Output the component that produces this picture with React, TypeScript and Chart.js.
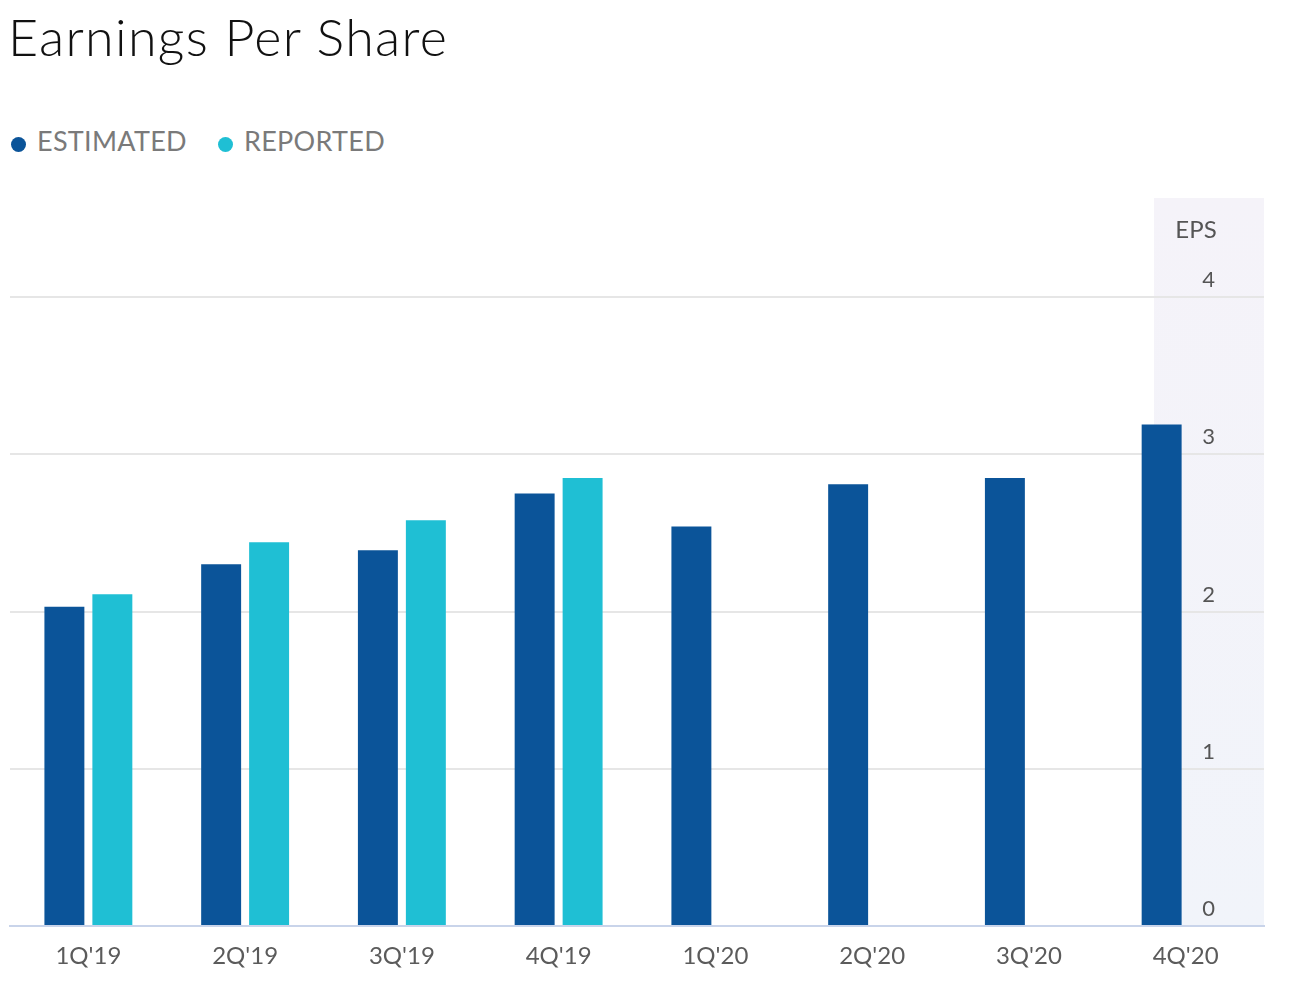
import React, { useEffect, useRef } from "react";
import { Chart, registerables } from "chart.js";

Chart.register(...registerables);

const TITLE = "Earnings Per Share";
const QUARTERS = ["1Q'19", "2Q'19", "3Q'19", "4Q'19", "1Q'20", "2Q'20", "3Q'20", "4Q'20"];
const ESTIMATED = [2.03, 2.3, 2.39, 2.75, 2.54, 2.81, 2.85, 3.19];
const REPORTED = [2.11, 2.44, 2.58, 2.85, null, null, null, null];
const SERIES_NAMES = ["ESTIMATED", "REPORTED"];
const SERIES_COLORS = ["#0b5499", "#1fbfd4"];
const Y_TICKS = [0, 1, 2, 3, 4];
const Y_AXIS_TITLE = "EPS";
const Y_MAX = 4.63;

const FONT = "Lato, 'Open Sans', sans-serif";

const panelPlugin = {
  id: "epsPanel",
  beforeDraw(chart: any) {
    const { ctx, chartArea: a } = chart;
    const left = a.right - 110;
    const g = ctx.createLinearGradient(0, a.top, 0, a.bottom);
    g.addColorStop(0, "#f5f3f9");
    g.addColorStop(1, "#f1f4fa");
    ctx.save();
    ctx.fillStyle = g;
    ctx.fillRect(left, a.top, a.right - left, a.bottom - a.top);
    ctx.fillStyle = "#555555";
    ctx.font = "24px " + FONT;
    ctx.textAlign = "center";
    ctx.textBaseline = "middle";
    ctx.fillText(Y_AXIS_TITLE, a.right - 68, a.top + 32);
    ctx.restore();
  },
};

export default function App() {
  const canvasRef = useRef<HTMLCanvasElement | null>(null);

  useEffect(() => {
    if (!canvasRef.current) return;
    const chart = new Chart(canvasRef.current, {
      type: "bar",
      data: {
        labels: QUARTERS,
        datasets: [
          {
            label: SERIES_NAMES[0],
            data: ESTIMATED,
            backgroundColor: SERIES_COLORS[0],
            categoryPercentage: 0.612,
            barPercentage: 0.833,
          },
          {
            label: SERIES_NAMES[1],
            data: REPORTED,
            backgroundColor: SERIES_COLORS[1],
            categoryPercentage: 0.612,
            barPercentage: 0.833,
          },
        ],
      },
      options: {
        animation: false,
        responsive: true,
        maintainAspectRatio: false,
        layout: { padding: { top: 8, left: 2, right: 30, bottom: 0 } },
        plugins: {
          legend: { display: false },
          title: { display: false },
          tooltip: { enabled: false },
        },
        scales: {
          x: {
            grid: { display: false, drawTicks: false },
            border: { display: true, color: "#c9d4ea", width: 2 },
            ticks: {
              color: "#5b5b5b",
              font: { family: FONT, size: 24 },
              padding: 16,
              maxRotation: 0,
              autoSkip: false,
            },
            afterFit: (s: any) => {
              s.height = 52;
            },
          },
          y: {
            position: "right",
            min: 0,
            max: Y_MAX,
            afterBuildTicks: (s: any) => {
              s.ticks = Y_TICKS.map((v) => ({ value: v }));
            },
            grid: {
              color: (c: any) => (c.tick && c.tick.value === 0 ? "#c9d4ea" : "#e6e6e6"),
              lineWidth: 2,
              drawTicks: false,
            },
            border: { display: false },
            ticks: {
              mirror: true,
              padding: -49,
              crossAlign: "center",
              labelOffset: -17,
              color: "#555555",
              font: { family: FONT, size: 22 },
            },
            afterFit: (s: any) => {
              s.width = 0;
              s.paddingTop = 0;
              s.paddingBottom = 0;
            },
          },
        },
      } as any,
      plugins: [panelPlugin],
    });
    return () => chart.destroy();
  }, []);

  return (
    <div style={{ position: "relative", height: 970, fontFamily: FONT }}>
      <div
        style={{
          position: "absolute",
          left: 0,
          top: 2,
          fontSize: 52,
          lineHeight: "52px",
          fontWeight: 300,
          letterSpacing: 1.3,
          color: "#111111",
          whiteSpace: "nowrap",
        }}
      >
        {TITLE}
      </div>
      <div
        style={{
          position: "absolute",
          left: 3,
          top: 119,
          height: 28,
          display: "flex",
          alignItems: "center",
          gap: 31,
        }}
      >
        {SERIES_NAMES.map((name, i) => (
          <div key={name} style={{ display: "flex", alignItems: "center" }}>
            <span
              style={{
                width: 15,
                height: 15,
                borderRadius: "50%",
                background: SERIES_COLORS[i],
                marginTop: 6,
                marginRight: 11,
                display: "inline-block",
              }}
            />
            <span
              style={{
                fontSize: 27,
                lineHeight: "28px",
                color: "#7a7a7a",
                letterSpacing: 0.3,
                whiteSpace: "nowrap",
              }}
            >
              {name}
            </span>
          </div>
        ))}
      </div>
      <div style={{ position: "absolute", left: 0, top: 182, width: 1286, height: 788 }}>
        <canvas ref={canvasRef} />
      </div>
    </div>
  );
}
